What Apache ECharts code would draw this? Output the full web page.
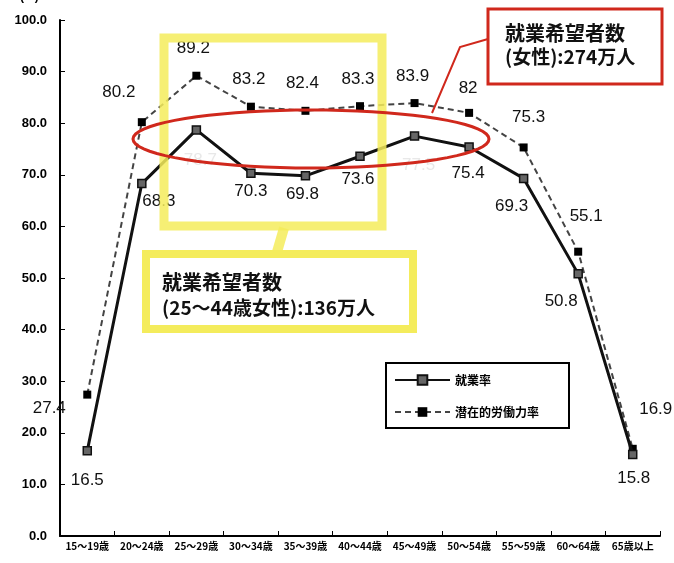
<!DOCTYPE html>
<html>
<head>
<meta charset="utf-8">
<script src="https://cdn.jsdelivr.net/npm/echarts@6/dist/echarts.min.js"></script>
<style>
  html, body { margin: 0; padding: 0; background: #fff; }
  #chart { width: 674px; height: 563px; }
</style>
</head>
<body>
<div id="chart"></div>
<script>
var dom = document.getElementById("chart");
var myChart = echarts.init(dom);

// data
var categories = ['15～19歳', '20～24歳', '25～29歳', '30～34歳', '35～39歳', '40～44歳',
    '45～49歳', '50～54歳', '55～59歳', '60～64歳', '65歳以上'];
var employRate = [16.5, 68.3, 78.7, 70.3, 69.8, 73.6, 77.5, 75.4, 69.3, 50.8, 15.8];
var employLabels = ['16.5', '68.3', '78.7', '70.3', '69.8', '73.6', '77.5', '75.4', '69.3', '50.8', '15.8'];
var potentialRate = [27.4, 80.2, 89.2, 83.2, 82.4, 83.3, 83.9, 82.0, 75.3, 55.1, 16.9];
var potentialLabels = ['27.4', '80.2', '89.2', '83.2', '82.4', '83.3', '83.9', '82', '75.3', '55.1', '16.9'];

// where each value label sits relative to its point
var employOffsets = [[0, 29], [17, 18], [4, 30], [0, 18], [-3, 18], [-2, 23], [4, 29], [-1, 26], [-12, 28], [-17, 27], [1, 24]];
var employFaded = [false, false, true, false, false, false, true, false, false, false, false];
var potentialOffsets = [[-38, 14], [-23, -30], [-3, -27], [-2, -27], [-3, -28], [-2, -27], [-2, -27], [-1, -25], [5, -30], [8, -35], [23, -39]];

function buildData(values, labels, offsets, faded) {
    return values.map(function (v, i) {
        return {
            value: v,
            label: {
                formatter: labels[i],
                offset: offsets[i],
                color: (faded && faded[i]) ? '#e8e8e8' : '#111'
            }
        };
    });
}

var yellow = '#f4ec5c';
var red = '#d0281c';

// red ellipse outline (annotation only)
var ellipsePts = [];
for (var k = 0; k <= 72; k++) {
    var t = k / 72 * Math.PI * 2;
    ellipsePts.push([311 + 178 * Math.cos(t), 139 + 29 * Math.sin(t)]);
}

var option = {
    animation: false,
    textStyle: { fontFamily: 'Liberation Sans, Noto Sans CJK JP, sans-serif' },
    grid: { left: 60, right: 14, top: 20, bottom: 27 },
    xAxis: {
        type: 'category',
        data: categories,
        boundaryGap: true,
        axisLine: { lineStyle: { color: '#000', width: 2 } },
        axisTick: { show: true, inside: true, length: 5, lineStyle: { color: '#000' } },
        axisLabel: {
            color: '#000', fontSize: 10, fontWeight: 'bold', margin: 5,
            fontFamily: 'Noto Sans CJK JP', interval: 0
        },
        splitLine: { show: false }
    },
    yAxis: {
        type: 'value',
        min: 0, max: 100, interval: 10,
        axisLine: { show: true, lineStyle: { color: '#000', width: 2 } },
        axisTick: { show: true, inside: true, length: 5, lineStyle: { color: '#000' } },
        axisLabel: {
            color: '#000', fontSize: 13, fontWeight: 'bold', margin: 13,
            formatter: function (v) { return v.toFixed(1); }
        },
        splitLine: { show: false }
    },
    legend: {
        orient: 'vertical',
        left: 386, top: 363,
        padding: [11, 30, 10, 8],
        itemGap: 20,
        itemWidth: 55, itemHeight: 12,
        backgroundColor: '#fff',
        borderColor: '#000', borderWidth: 2,
        textStyle: { fontSize: 12, fontWeight: 'bold', color: '#000', fontFamily: 'Noto Sans CJK JP' },
        data: ['就業率', '潜在的労働力率'],
        z: 20
    },
    series: [{
        name: '潜在的労働力率',
        type: 'line',
        data: buildData(potentialRate, potentialLabels, potentialOffsets, null),
        symbol: 'rect', symbolSize: 8,
        lineStyle: { color: '#444', width: 2, type: [6, 4] },
        itemStyle: { color: '#000' },
        label: { show: true, position: 'inside', fontSize: 17, fontFamily: 'Liberation Sans' },
        z: 3
    }, {
        name: '就業率',
        type: 'line',
        data: buildData(employRate, employLabels, employOffsets, employFaded),
        symbol: 'rect', symbolSize: 8,
        lineStyle: { color: '#111', width: 3 },
        itemStyle: { color: '#666', borderColor: '#111', borderWidth: 1.5 },
        label: { show: true, position: 'inside', fontSize: 17, fontFamily: 'Liberation Sans' },
        z: 4
    }],
    graphic: [
        { type: 'text', left: 20, top: -9, style: { text: '(%)', fontSize: 12, fontWeight: 'bold', fill: '#000' } },
        // yellow annotations
        { type: 'rect', z: 10, shape: { x: 164, y: 38, width: 218, height: 188 },
          style: { fill: null, stroke: yellow, lineWidth: 9, opacity: 0.85 } },
        { type: 'line', z: 10, shape: { x1: 284, y1: 228, x2: 277, y2: 252 },
          style: { stroke: yellow, lineWidth: 10, opacity: 0.85 } },
        { type: 'rect', z: 10, shape: { x: 146, y: 254, width: 267, height: 75 },
          style: { fill: '#fff', stroke: yellow, lineWidth: 8 } },
        { type: 'text', z: 11, x: 162, y: 282,
          style: { text: '就業希望者数', fontSize: 20, fontWeight: 'bold', fill: '#111',
                   fontFamily: 'Noto Sans CJK JP', verticalAlign: 'middle' } },
        { type: 'text', z: 11, x: 162, y: 308,
          style: { text: '(25～44歳女性):136万人', fontSize: 19, fontWeight: 'bold', fill: '#111',
                   fontFamily: 'Noto Sans CJK JP', verticalAlign: 'middle' } },
        // red annotations
        { type: 'polygon', z: 12, shape: { points: ellipsePts },
          style: { fill: null, stroke: red, lineWidth: 3 } },
        { type: 'polyline', z: 12, shape: { points: [[488, 39], [460, 47], [432, 113]] },
          style: { stroke: red, lineWidth: 2, fill: null } },
        { type: 'rect', z: 12, shape: { x: 488, y: 9, width: 174, height: 75 },
          style: { fill: '#fff', stroke: red, lineWidth: 3 } },
        { type: 'text', z: 13, x: 505, y: 33,
          style: { text: '就業希望者数', fontSize: 20, fontWeight: 'bold', fill: '#111',
                   fontFamily: 'Noto Sans CJK JP', verticalAlign: 'middle' } },
        { type: 'text', z: 13, x: 505, y: 57,
          style: { text: '(女性):274万人', fontSize: 19, fontWeight: 'bold', fill: '#111',
                   fontFamily: 'Noto Sans CJK JP', verticalAlign: 'middle' } }
    ]
};

myChart.setOption(option);
</script>
</body>
</html>
